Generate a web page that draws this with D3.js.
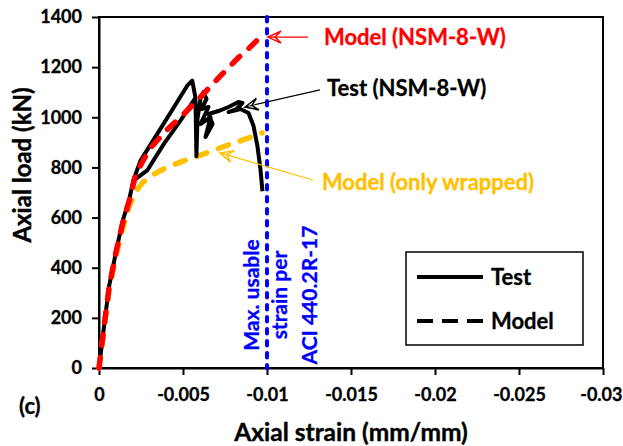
<!doctype html>
<html lang="en">
<head>
<meta charset="UTF-8">
<title>Axial load vs strain</title>
<script src="https://d3js.org/d3.v7.min.js"></script>
<style>
  body { margin: 0; background: #fff; }
  text { font-family: Lato, "Open Sans", sans-serif; font-weight: 700; }
</style>
</head>
<body>
<div id="chart-area"></div>

<script>
const W = 623;
const H = 446;

// axis ticks
const xTicks = [0, -0.005, -0.01, -0.015, -0.02, -0.025, -0.03];
const yTicks = [0, 200, 400, 600, 800, 1000, 1200, 1400];

// test curve (strain, load kN)
const testCurve = [
    [0, 0], [-0.0003, 166], [-0.0006, 326], [-0.001, 459], [-0.0014, 585], [-0.0018, 672], [-0.00205, 750],
    [-0.00247, 827], [-0.00346, 933], [-0.00445, 1039], [-0.00525, 1126], [-0.00555, 1146],
    [-0.00574, 1078], [-0.00485, 987], [-0.00386, 894], [-0.00287, 788], [-0.00215, 752],
    [-0.00287, 788], [-0.00386, 894], [-0.00485, 987], [-0.00574, 1078],
    [-0.0058, 845], [-0.00586, 993], [-0.00604, 1073], [-0.00622, 1101], [-0.0064, 1073], [-0.0061, 1033],
    [-0.00652, 1041], [-0.00604, 973], [-0.00664, 1001], [-0.00634, 921], [-0.00676, 973], [-0.00652, 1013],
    [-0.00711, 1025], [-0.00771, 1041], [-0.0083, 1061], [-0.00854, 1057], [-0.00818, 1033], [-0.00771, 1021],
    [-0.00842, 1033], [-0.0089, 1017], [-0.0092, 965], [-0.00943, 885], [-0.00961, 793], [-0.00973, 705]
];

// model NSM-8-W
const modelNsm = [
    [0, 0], [-0.0003, 166], [-0.0006, 320], [-0.001, 459], [-0.0014, 575], [-0.0018, 667], [-0.0022, 775],
    [-0.003, 873], [-0.004, 947], [-0.005, 1010], [-0.006, 1078], [-0.0073, 1170], [-0.0083, 1238],
    [-0.009, 1280], [-0.0099, 1340]
];

// model only wrapped
const modelWrapped = [
    [0, 0], [-0.0003, 160], [-0.0006, 315], [-0.001, 445], [-0.0014, 555], [-0.0018, 645], [-0.0022, 705],
    [-0.0026, 740], [-0.0032, 770], [-0.004, 800], [-0.005, 825], [-0.006, 848], [-0.0075, 885],
    [-0.009, 920], [-0.0097, 938]
];

const usableStrain = -0.01;

const svg = d3.select('#chart-area')
    .append('svg')
    .attr('width', W)
    .attr('height', H);

const x = d3.scaleLinear().domain([0, -0.03]).range([99, 603]);
const y = d3.scaleLinear().domain([0, 1400]).range([368, 17]);

const line = d3.line()
    .x(d => x(d[0]))
    .y(d => y(d[1]));

// frame
svg.append('rect')
    .attr('x', x(0))
    .attr('y', y(1400))
    .attr('width', x(-0.03) - x(0))
    .attr('height', y(0) - y(1400))
    .attr('fill', 'none')
    .attr('stroke', '#000')
    .attr('stroke-width', 2);

const xAxis = svg.append('g')
    .attr('transform', `translate(0,${y(0)})`)
    .call(d3.axisBottom(x).tickValues(xTicks).tickFormat(d => String(d)).tickSize(7).tickSizeOuter(0).tickPadding(13));

const yAxis = svg.append('g')
    .attr('transform', `translate(${x(0)},0)`)
    .call(d3.axisLeft(y).tickValues(yTicks).tickFormat(d => String(d)).tickSize(7).tickSizeOuter(0).tickPadding(10));

[xAxis, yAxis].forEach(g => {
    g.select('.domain').attr('stroke-width', 2);
    g.selectAll('.tick line').attr('stroke-width', 2);
    g.selectAll('.tick text')
        .attr('fill', '#000')
        .attr('stroke', '#000')
        .attr('stroke-width', 0.3)
        .style('font-family', 'Lato')
        .style('font-weight', 700)
        .style('font-size', '18px');
});

// keep the last x label inside the picture
xAxis.selectAll('.tick text')
    .filter(d => d === -0.03)
    .attr('text-anchor', 'end')
    .attr('x', 19);

// curves
svg.append('path')
    .datum(modelWrapped)
    .attr('d', line)
    .attr('fill', 'none')
    .attr('stroke', '#FFC000')
    .attr('stroke-width', 5.5)
    .attr('stroke-linecap', 'round')
    .attr('stroke-dasharray', '10.5,12.5');

svg.append('path')
    .datum(testCurve)
    .attr('d', line)
    .attr('fill', 'none')
    .attr('stroke', '#000')
    .attr('stroke-width', 4)
    .attr('stroke-linejoin', 'round');

svg.append('path')
    .datum(modelNsm)
    .attr('d', line)
    .attr('fill', 'none')
    .attr('stroke', '#FF0000')
    .attr('stroke-width', 5.5)
    .attr('stroke-linecap', 'round')
    .attr('stroke-dasharray', '10.5,12.5');

// max usable strain line
svg.append('line')
    .attr('x1', x(usableStrain))
    .attr('x2', x(usableStrain))
    .attr('y1', y(1400))
    .attr('y2', y(0))
    .attr('stroke', '#0000FF')
    .attr('stroke-width', 4)
    .attr('stroke-linecap', 'round')
    .attr('stroke-dasharray', '4.5,7.5');

const blueLines = ['Max. usable', 'strain per', 'ACI 440.2R-17'];
const blueStrain = [-0.0091, -0.01077, -0.01256];
blueLines.forEach((t, i) => {
    svg.append('text')
        .attr('transform', `translate(${x(blueStrain[i])},${y(291)}) rotate(-90)`)
        .attr('text-anchor', 'middle')
        .attr('dy', '0.35em')
        .attr('fill', '#0000FF')
        .attr('stroke', '#0000FF')
        .attr('stroke-width', 0.3)
        .style('font-size', '21px')
        .text(t);
});

// annotations
const notes = [
    { text: 'Model (NSM-8-W)', color: '#FF0000', tx: -0.01339, ty: 1320, from: [-0.01244, 1320], to: [-0.01006, 1320] },
    { text: 'Test (NSM-8-W)', color: '#000', tx: -0.01357, ty: 1117, from: [-0.01315, 1109], to: [-0.00869, 1041] },
    { text: 'Model (only wrapped)', color: '#FFC000', tx: -0.01327, ty: 742, from: [-0.01274, 750], to: [-0.0072, 858] }
];

notes.forEach(n => {
    const x1 = x(n.from[0]), y1 = y(n.from[1]);
    const x2 = x(n.to[0]), y2 = y(n.to[1]);
    svg.append('line')
        .attr('x1', x1).attr('y1', y1)
        .attr('x2', x2).attr('y2', y2)
        .attr('stroke', n.color)
        .attr('stroke-width', 1.2);
    const a = Math.atan2(y2 - y1, x2 - x1) * 180 / Math.PI;
    svg.append('path')
        .attr('transform', `translate(${x2},${y2}) rotate(${a})`)
        .attr('d', 'M-13,-6 L0,0 L-13,6 M-13,-6 L-7,0 L-13,6')
        .attr('fill', 'none')
        .attr('stroke', n.color)
        .attr('stroke-width', 1.5)
        .attr('stroke-linejoin', 'miter');
    svg.append('text')
        .attr('x', x(n.tx))
        .attr('y', y(n.ty))
        .attr('dy', '0.35em')
        .attr('fill', n.color)
        .attr('stroke', n.color)
        .attr('stroke-width', 0.3)
        .style('font-size', '22px')
        .text(n.text);
});

// legend
const leg = svg.append('g');
leg.append('rect')
    .attr('x', 406).attr('y', 252)
    .attr('width', 177).attr('height', 93)
    .attr('fill', '#fff')
    .attr('stroke', '#000')
    .attr('stroke-width', 1.5);
leg.append('line')
    .attr('x1', 417).attr('x2', 483).attr('y1', 277).attr('y2', 277)
    .attr('stroke', '#000').attr('stroke-width', 4);
leg.append('line')
    .attr('x1', 417).attr('x2', 483).attr('y1', 321).attr('y2', 321)
    .attr('stroke', '#000').attr('stroke-width', 4)
    .attr('stroke-dasharray', '16,9');
leg.selectAll('text.lbl')
    .data([['Test', 277], ['Model', 321]])
    .enter().append('text')
    .attr('x', 491).attr('y', d => d[1]).attr('dy', '0.35em')
    .attr('stroke', '#000').attr('stroke-width', 0.3)
    .style('font-size', '22px')
    .text(d => d[0]);

// titles
svg.append('text')
    .attr('x', (x(0) + x(-0.03)) / 2)
    .attr('y', 432)
    .attr('dy', '0.35em')
    .attr('text-anchor', 'middle')
    .attr('stroke', '#000').attr('stroke-width', 0.4)
    .style('font-size', '24.5px')
    .text('Axial strain (mm/mm)');

svg.append('text')
    .attr('transform', 'translate(23,165) rotate(-90)')
    .attr('dy', '0.35em')
    .attr('text-anchor', 'middle')
    .attr('stroke', '#000').attr('stroke-width', 0.4)
    .style('font-size', '24px')
    .text('Axial load (kN)');

svg.append('text')
    .attr('x', 19)
    .attr('y', 406)
    .attr('dy', '0.35em')
    .attr('stroke', '#000').attr('stroke-width', 0.3)
    .style('font-size', '22px')
    .text('(c)');
</script>
</body>
</html>
